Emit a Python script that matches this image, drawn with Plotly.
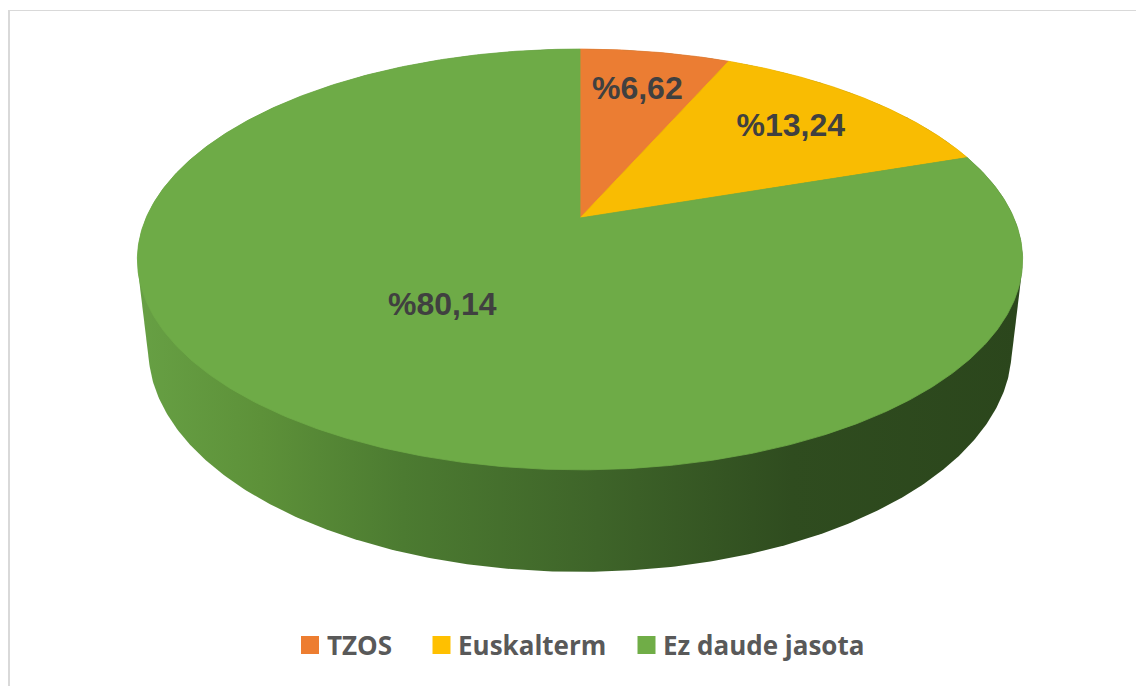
import math
import plotly.graph_objects as go

# ---- data ----
categories = ["TZOS", "Euskalterm", "Ez daude jasota"]
values = [6.62, 13.24, 80.14]
label_texts = ["%6,62", "%13,24", "%80,14"]
top_colors = ["#EB7D33", "#F9BC02", "#6EAB47"]
legend_colors = ["#ED7D31", "#FFC000", "#70AD47"]
label_radius = [0.73, 0.72, 0.50]
legend_x = [310, 441.5, 646.5]      # legend swatch centres (page px)

# ---- canvas: the page has an 8px body margin, so the figure is placed at (8, 8)
PAGE_W, PAGE_H = 1144, 686
OFF = 8
FIG_W, FIG_H = PAGE_W - OFF, PAGE_H - OFF
LEGEND_Y = 645.0

# ---- 3D view geometry (page pixel coordinates) ----
X0, Y0 = 580.0, 218.0          # projected pie centre
F = 1949.0                      # focal length
S = 0.466                       # sin(tilt)
C = math.sqrt(1 - S * S)        # cos(tilt)
D = C / 0.197                   # camera distance
DEPTH = 0.236                   # pie thickness (unit radius)


def proj(x, y, z):
    rx, ry, rz = x, y - D * S, z + D * C
    zc = -ry * S + rz * C
    yc = ry * C + rz * S
    return X0 + F * rx / zc, Y0 - F * yc / zc


def hull(points):
    pts = sorted(set(points))

    def cross(o, a, b):
        return (a[0] - o[0]) * (b[1] - o[1]) - (a[1] - o[1]) * (b[0] - o[0])

    lower, upper = [], []
    for p in pts:
        while len(lower) >= 2 and cross(lower[-2], lower[-1], p) <= 0:
            lower.pop()
        lower.append(p)
    for p in reversed(pts):
        while len(upper) >= 2 and cross(upper[-2], upper[-1], p) <= 0:
            upper.pop()
        upper.append(p)
    return lower[:-1] + upper[:-1]


fig = go.Figure()

# side wall (only the big slice is visible at the front)
side_pts = []
for i in range(0, 720):
    t = math.radians(i * 0.5)
    side_pts.append(proj(math.sin(t), 0, math.cos(t)))
    side_pts.append(proj(math.sin(t), -DEPTH, math.cos(t)))
hp = hull(side_pts)
hx = [p[0] for p in hp] + [hp[0][0]]
hy = [p[1] for p in hp] + [hp[0][1]]
fig.add_trace(go.Scatter(
    x=hx, y=hy, mode="lines", fill="toself", line=dict(width=0, color="#3e6429"),
    fillgradient=dict(type="horizontal", colorscale=[
        [0.0, "#67A044"], [0.14, "#5D9139"], [0.30, "#4C7B31"],
        [0.52, "#3E6429"], [0.74, "#2F4C1F"], [1.0, "#2B461C"]]),
    hoverinfo="skip", showlegend=False))

# top slices
total = sum(values)
start = 0.0
mids = []
for cat, v, col in zip(categories, values, top_colors):
    a0 = start / total * 2 * math.pi
    a1 = (start + v) / total * 2 * math.pi
    n = max(4, int(math.degrees(a1 - a0) * 2))
    xs, ys = [X0], [Y0]
    for k in range(n + 1):
        t = a0 + (a1 - a0) * k / n
        px, py = proj(math.sin(t), 0, math.cos(t))
        xs.append(px)
        ys.append(py)
    xs.append(X0)
    ys.append(Y0)
    fig.add_trace(go.Scatter(x=xs, y=ys, mode="lines", fill="toself",
                             fillcolor=col, line=dict(width=0.8, color=col),
                             hoverinfo="skip", showlegend=False, name=cat))
    mids.append((a0 + a1) / 2)
    start += v

# data labels
lx, ly = [], []
for m, r in zip(mids, label_radius):
    px, py = proj(r * math.sin(m), 0, r * math.cos(m))
    lx.append(px)
    ly.append(py)
fig.add_trace(go.Scatter(
    x=lx, y=ly, mode="text", text=label_texts,
    textfont=dict(family="Liberation Sans, Arial, sans-serif", size=32,
                  color="#404040", weight="bold"),
    hoverinfo="skip", showlegend=False))

# legend (swatches + labels)
fig.add_trace(go.Scatter(
    x=legend_x, y=[LEGEND_Y] * len(legend_x), mode="markers",
    marker=dict(symbol="square", size=18, color=legend_colors, line=dict(width=0)),
    hoverinfo="skip", showlegend=False))
annotations = []
for cat, xc in zip(categories, legend_x):
    annotations.append(dict(
        x=xc + 15.5, y=LEGEND_Y, xref="x", yref="y", text=cat, showarrow=False,
        xanchor="left", yanchor="middle", borderpad=0,
        font=dict(family="Open Sans, sans-serif", size=26, color="#595959",
                  weight="bold")))

fig.update_layout(
    width=FIG_W, height=FIG_H,
    margin=dict(l=0, r=0, t=0, b=0),
    paper_bgcolor="white", plot_bgcolor="white",
    xaxis=dict(range=[OFF, PAGE_W], visible=False, fixedrange=True),
    yaxis=dict(range=[PAGE_H, OFF], visible=False, fixedrange=True),
    showlegend=False,
    annotations=annotations,
    shapes=[
        dict(type="line", xref="x", yref="y", x0=9, x1=9, y0=10, y1=PAGE_H,
             line=dict(color="#D9D9D9", width=2), layer="below"),
        dict(type="line", xref="x", yref="y", x0=8, x1=PAGE_W, y0=10.5, y1=10.5,
             line=dict(color="#D9D9D9", width=1), layer="below"),
    ],
)

fig.write_html("out.html")
